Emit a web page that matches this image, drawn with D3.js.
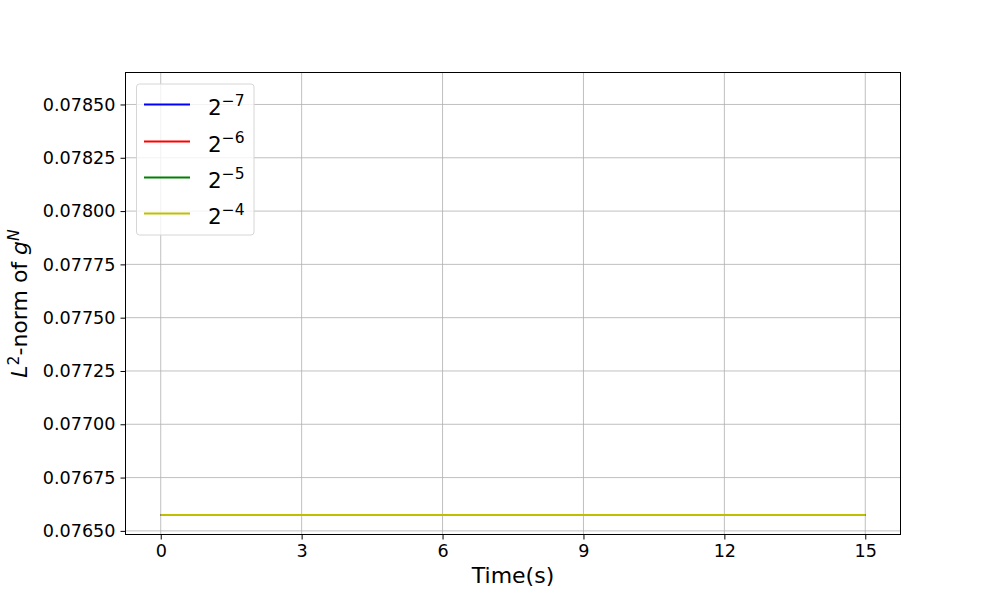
<!DOCTYPE html>
<html>
<head>
<meta charset="utf-8">
<script src="https://cdn.jsdelivr.net/npm/d3@7"></script>
<style>
  body { margin: 0; background: #fff; }
  svg text { font-family: "DejaVu Sans", sans-serif; fill: #000; }
</style>
</head>
<body>
<script>
// data
var times = [0, 1.5, 3, 4.5, 6, 7.5, 9, 10.5, 12, 13.5, 15];
var normH7 = [0.076575, 0.076575, 0.076575, 0.076575, 0.076575, 0.076575, 0.076575, 0.076575, 0.076575, 0.076575, 0.076575];
var normH6 = [0.076575, 0.076575, 0.076575, 0.076575, 0.076575, 0.076575, 0.076575, 0.076575, 0.076575, 0.076575, 0.076575];
var normH5 = [0.076574, 0.076574, 0.076574, 0.076574, 0.076574, 0.076574, 0.076574, 0.076574, 0.076574, 0.076574, 0.076574];
var normH4 = [0.076575, 0.076575, 0.076575, 0.076575, 0.076575, 0.076575, 0.076575, 0.076575, 0.076575, 0.076575, 0.076575];
var seriesExp = ["7", "6", "5", "4"];
var seriesColors = ["#0000ff", "#ff0000", "#008000", "#bfbf00"];
var xTicks = [0, 3, 6, 9, 12, 15];
var yTicks = [0.0765, 0.07675, 0.077, 0.07725, 0.0775, 0.07775, 0.078, 0.07825, 0.0785];

var w = 1000, h = 600;
var pL = 125.5, pR = 900.5, pT = 72.5, pB = 534.5;

var svg = d3.select("body").append("svg")
  .attr("width", w)
  .attr("height", h);

var xScale = d3.scaleLinear().domain([-0.75, 15.75]).range([pL, pR]);
var yScale = d3.scaleLinear().domain([0.076483, 0.07865]).range([pB, pT]);

// grid
svg.append("g").selectAll("line").data(xTicks).enter().append("line")
  .attr("x1", function(d) { return xScale(d); })
  .attr("x2", function(d) { return xScale(d); })
  .attr("y1", pT).attr("y2", pB)
  .attr("stroke", "#b0b0b0").attr("stroke-width", 0.8);
svg.append("g").selectAll("line").data(yTicks).enter().append("line")
  .attr("y1", function(d) { return yScale(d); })
  .attr("y2", function(d) { return yScale(d); })
  .attr("x1", pL).attr("x2", pR)
  .attr("stroke", "#b0b0b0").attr("stroke-width", 0.8);

// lines
var allSeries = [normH7, normH6, normH5, normH4];
var line = d3.line()
  .x(function(d, i) { return xScale(times[i]); })
  .y(function(d) { return yScale(d); });
allSeries.forEach(function(s, k) {
  svg.append("path")
    .datum(s)
    .attr("d", line)
    .attr("fill", "none")
    .attr("stroke", seriesColors[k])
    .attr("stroke-width", 2);
});

// axes
var xAxis = d3.axisBottom(xScale).tickValues(xTicks).tickSize(5).tickPadding(5);
var yAxis = d3.axisLeft(yScale).tickValues(yTicks).tickSize(5).tickPadding(5)
  .tickFormat(d3.format(".5f"));

var gx = svg.append("g").attr("transform", "translate(0," + pB + ")").call(xAxis);
var gy = svg.append("g").attr("transform", "translate(" + pL + ",0)").call(yAxis);
[gx, gy].forEach(function(g) {
  g.attr("font-size", null).attr("font-family", null);
  g.select(".domain").remove();
  g.selectAll(".tick line").attr("stroke", "#000").attr("stroke-width", 1);
  g.selectAll(".tick text").style("font-size", "17.6px").attr("fill", "#000");
});

// frame
svg.append("rect")
  .attr("x", pL).attr("y", pT)
  .attr("width", pR - pL).attr("height", pB - pT)
  .attr("fill", "none").attr("stroke", "#000").attr("stroke-width", 1);

// axis labels
svg.append("text")
  .attr("x", (pL + pR) / 2).attr("y", 583)
  .attr("text-anchor", "middle")
  .style("font-size", "22px")
  .text("Time(s)");

var yl = svg.append("text")
  .attr("transform", "translate(27," + ((pT + pB) / 2) + ") rotate(-90)")
  .attr("text-anchor", "middle")
  .style("font-size", "22px");
yl.append("tspan").attr("font-style", "italic").text("L");
yl.append("tspan").style("font-size", "15.5px").attr("dy", "-8").text("2");
yl.append("tspan").attr("dy", "8").text("-norm of ");
yl.append("tspan").attr("font-style", "italic").text("g");
yl.append("tspan").style("font-size", "15.5px").attr("font-style", "italic").attr("dy", "-8").text("N");

// legend
var lg = svg.append("g");
lg.append("rect")
  .attr("x", 136.5).attr("y", 84)
  .attr("width", 117.5).attr("height", 151)
  .attr("rx", 3)
  .attr("fill", "#fff").attr("fill-opacity", 0.8)
  .attr("stroke", "#d6d6d6").attr("stroke-width", 1);
var rowY = [104.5, 141.5, 177.5, 213.5];
seriesExp.forEach(function(e, k) {
  lg.append("line")
    .attr("x1", 144).attr("x2", 190)
    .attr("y1", rowY[k]).attr("y2", rowY[k])
    .attr("stroke", seriesColors[k]).attr("stroke-width", 2);
  var t = lg.append("text")
    .attr("x", 208).attr("y", rowY[k] + 10)
    .style("font-size", "21.5px");
  t.append("tspan").text("2");
  t.append("tspan").style("font-size", "15.5px").attr("dy", "-9").text("\u2212" + e);
});
</script>
</body>
</html>
